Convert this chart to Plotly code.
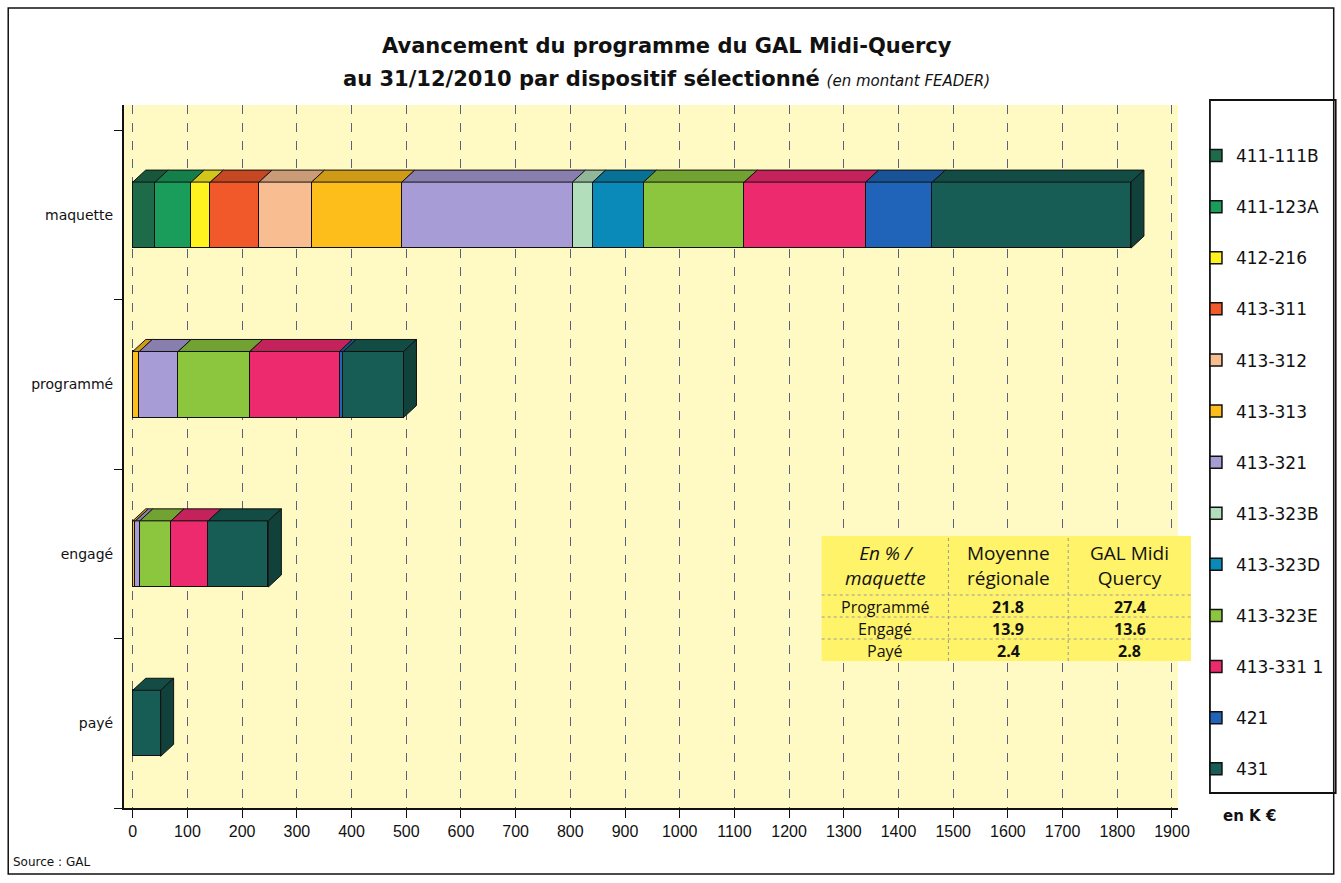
import plotly.graph_objects as go

# ---------------- data ----------------
categories = ["maquette", "programmé", "engagé", "payé"]
series_names = ["411-111B", "411-123A", "412-216", "413-311", "413-312", "413-313",
                "413-321", "413-323B", "413-323D", "413-323E", "413-331 1", "421", "431"]
# values in K€ for [maquette, programmé, engagé, payé]
v_411_111B = [41, 0, 0, 0]
v_411_123A = [66, 0, 0, 0]
v_412_216 = [35, 0, 0, 0]
v_413_311 = [89, 0, 0, 0]
v_413_312 = [96, 0, 0, 0]
v_413_313 = [165, 12, 5, 0]
v_413_321 = [312, 71, 8, 0]
v_413_323B = [37, 0, 0, 0]
v_413_323D = [93, 0, 0, 0]
v_413_323E = [184, 131, 57, 0]
v_413_331_1 = [222, 164, 68, 0]
v_421 = [122, 7, 0, 0]
v_431 = [363, 110, 110, 51]
series_values = [v_411_111B, v_411_123A, v_412_216, v_413_311, v_413_312, v_413_313,
                 v_413_321, v_413_323B, v_413_323D, v_413_323E, v_413_331_1, v_421, v_431]
series_colors = ["#1E6B4A", "#1A9C5B", "#FFF21F", "#F2592A", "#F8BE92", "#FDBD1B",
                 "#A89CD6", "#B3DEBC", "#0A8AB8", "#8CC63E", "#EE2A6E", "#1F64B8", "#175D55"]

x_ticks = list(range(0, 2000, 100))

table_header = ["<i>En % /<br>maquette</i>", "Moyenne<br>régionale", "GAL Midi<br>Quercy"]
table_rows = ["Programmé", "Engagé", "Payé"]
table_regional = ["21.8", "13.9", "2.4"]
table_gal = ["27.4", "13.6", "2.8"]

# ---------------- geometry ----------------
W, H = 1341, 883
L, R, T, B = 124, 1180, 105, 808          # plot area in px
y_pos = [3, 2, 1, 0]                       # numeric positions of categories
BAR_W = 0.39
X_RANGE = [-16, 1911]
Y_RANGE = [-0.5, 3.65]
px_per_x = (R - L) / (X_RANGE[1] - X_RANGE[0])
px_per_y = (B - T) / (Y_RANGE[1] - Y_RANGE[0])
DX = 13 / px_per_x     # 3D depth offsets in data units
DY = 12 / px_per_y

SANS = "DejaVu Sans, Verdana, sans-serif"
NARROW = "Liberation Sans Narrow, Arial Narrow, Liberation Sans, sans-serif"
TFONT = "Open Sans, Calibri, sans-serif"


def px(xp):
    return (xp - L) / (R - L)


def py(yp):
    return (B - yp) / (B - T)


def shade(hexc, f):
    h = hexc.lstrip("#")
    r, g, b = int(h[0:2], 16), int(h[2:4], 16), int(h[4:6], 16)
    return "rgb(%d,%d,%d)" % (int(r * f), int(g * f), int(b * f))


def note(xp, yp, text, size, family=SANS, xanchor="center", **kw):
    return dict(xref="paper", yref="paper", x=px(xp), y=py(yp), text=text, showarrow=False,
                xanchor=xanchor, yanchor="middle",
                font=dict(family=family, size=size, color="#111"), **kw)


fig = go.Figure()

# front faces (stacked bars)
for name, vals, col in zip(series_names, series_values, series_colors):
    fig.add_trace(go.Bar(
        y=y_pos, x=[v if v > 0 else None for v in vals], orientation="h",
        name=name, marker=dict(color=col, line=dict(color="#111", width=1.5)),
        width=BAR_W, legendgroup=name, hoverinfo="x+name",
    ))

# top faces and end faces (3D look), computed from the stacked data
cum = [0.0] * len(categories)
last_seg = [None] * len(categories)
for name, vals, col in zip(series_names, series_values, series_colors):
    xs, ys = [], []
    for i, v in enumerate(vals):
        if v > 0:
            x0, x1 = cum[i], cum[i] + v
            yt = y_pos[i] + BAR_W / 2
            xs += [x0, x1, x1 + DX, x0 + DX, x0, None]
            ys += [yt, yt, yt + DY, yt + DY, yt, None]
            cum[i] = x1
            last_seg[i] = col
    if xs:
        fig.add_trace(go.Scatter(x=xs, y=ys, fill="toself", mode="lines",
                                 fillcolor=shade(col, 0.82),
                                 line=dict(color="#111", width=1),
                                 showlegend=False, hoverinfo="skip", legendgroup=name))
for i, total in enumerate(cum):
    if total > 0:
        yb = y_pos[i] - BAR_W / 2
        yt = y_pos[i] + BAR_W / 2
        fig.add_trace(go.Scatter(
            x=[total, total, total + DX, total + DX, total],
            y=[yb, yt, yt + DY, yb + DY, yb], fill="toself", mode="lines",
            fillcolor=shade(last_seg[i], 0.7), line=dict(color="#111", width=1),
            showlegend=False, hoverinfo="skip"))

# ---------------- table (annotation-like overlay) ----------------
shapes = []
annotations = []
col_x = [823, 950, 1070, 1193]
row_y = [536, 595, 617, 639, 661]
shapes.append(dict(type="rect", xref="paper", yref="paper",
                   x0=px(col_x[0]), x1=px(col_x[-1]), y0=py(row_y[-1]), y1=py(row_y[0]),
                   fillcolor="#FFF36A", line=dict(width=0), layer="above"))
for xv in col_x[1:-1]:
    shapes.append(dict(type="line", xref="paper", yref="paper", x0=px(xv), x1=px(xv),
                       y0=py(row_y[-1]), y1=py(row_y[0]),
                       line=dict(color="#9a9a9a", width=1, dash="dot"), layer="above"))
for yv in row_y[1:-1]:
    shapes.append(dict(type="line", xref="paper", yref="paper", x0=px(col_x[0]), x1=px(col_x[-1]),
                       y0=py(yv), y1=py(yv),
                       line=dict(color="#9a9a9a", width=1, dash="dot"), layer="above"))
for j, txt in enumerate(table_header):
    annotations.append(note((col_x[j] + col_x[j + 1]) / 2, (row_y[0] + row_y[1]) / 2,
                            txt, 19, family=TFONT, align="center"))
for r, (lab, a, b) in enumerate(zip(table_rows, table_regional, table_gal)):
    yc = (row_y[r + 1] + row_y[r + 2]) / 2 + 0.5
    for j, txt in enumerate([lab, "<b>%s</b>" % a, "<b>%s</b>" % b]):
        annotations.append(note((col_x[j] + col_x[j + 1]) / 2, yc, txt, 16, family=TFONT,
                                borderpad=0))

# ---------------- titles & texts ----------------
annotations.append(note(668, 46, "<b>Avancement du programme du GAL Midi-Quercy</b>", 21))
annotations.append(note(668, 79, "<b>au 31/12/2010 par dispositif sélectionné</b> "
                                 "<span style='font-size:15px'><i>(en montant FEADER)</i></span>", 21))
annotations.append(note(1252, 816, "<b>en K €</b>", 15))
annotations.append(note(11, 862, "Source : GAL", 12, xanchor="left"))

# outer frame and legend box
shapes.append(dict(type="rect", xref="paper", yref="paper", x0=px(8), x1=px(1336),
                   y0=py(874), y1=py(8), line=dict(color="#111", width=1.5), layer="below"))
shapes.append(dict(type="rect", xref="paper", yref="paper", x0=px(1212), x1=px(1338),
                   y0=py(793), y1=py(100), line=dict(color="#111", width=1.8), layer="below"))

fig.update_layout(
    width=W, height=H,
    margin=dict(l=L, r=W - R, t=T, b=H - B),
    paper_bgcolor="white", plot_bgcolor="#FFFAC4",
    barmode="stack", bargap=0,
    font=dict(family=SANS, size=13, color="#111"),
    shapes=shapes, annotations=annotations,
    legend=dict(x=px(1198), y=py(138), xanchor="left", yanchor="top",
                traceorder="grouped", tracegroupgap=26, maxheight=900,
                borderwidth=0, bgcolor="rgba(0,0,0,0)",
                font=dict(family=SANS, size=17, color="#111"),
                itemwidth=30),
    xaxis=dict(range=X_RANGE, tickvals=x_ticks, ticktext=[str(t) for t in x_ticks],
               showgrid=True, gridcolor="#5a6080", griddash="dash", gridwidth=1,
               showline=True, linecolor="#111", linewidth=2, ticks="outside",
               ticklen=8, tickcolor="#111", zeroline=False,
               tickfont=dict(family=NARROW, size=16)),
    yaxis=dict(range=Y_RANGE, tickvals=y_pos, ticktext=categories, showgrid=False,
               showline=True, linecolor="#111", linewidth=2, ticks="", zeroline=False,
               minor=dict(ticks="outside", tick0=0.5, dtick=1, ticklen=8, tickcolor="#111"),
               ticklabelstandoff=6,
               tickfont=dict(family=SANS, size=14)),
)

fig.write_html("out.html", config={"displayModeBar": False},
               post_script="document.body.style.margin='0';")
